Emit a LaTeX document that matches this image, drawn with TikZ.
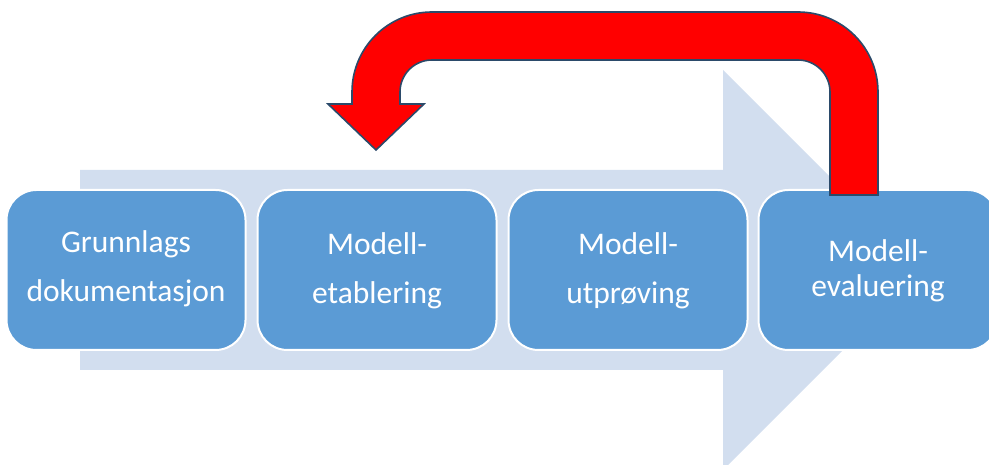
\documentclass[tikz,border=0pt]{standalone}
\usepackage{fontspec}
\setmainfont{Carlito}
\definecolor{boxblue}{HTML}{5B9BD5}
\definecolor{paleblue}{HTML}{D2DEEF}
\definecolor{arrowred}{HTML}{FF0000}
\definecolor{edgenavy}{HTML}{2B4A6A}
\begin{document}
\begin{tikzpicture}[x=1pt,y=1pt,
  stagebox/.style={rectangle, rounded corners=30pt, fill=boxblue, draw=white, line width=2pt,
    minimum width=239pt, minimum height=160pt, inner sep=0pt},
  lbl/.style={text=white, font=\fontsize{31.5}{38}\selectfont, inner sep=0pt, anchor=base}]
\useasboundingbox (0,0) rectangle (989,465);
\clip (0,0) rectangle (989,465);
% background process arrow
\fill[paleblue] (80,295) -- (723,295) -- (723,395) -- (923,195) -- (723,-5) -- (723,95) -- (80,95) -- cycle;
% stage boxes
\node[stagebox] (b1) at (126,195) {};
\node[stagebox] (b2) at (377,195) {};
\node[stagebox] (b3) at (628,195) {};
\node[stagebox] (b4) at (878,195) {};
% labels
\node[lbl] (t1a) at (126,212) {Grunnlags};
\node[lbl] (t1b) at (126,163) {dokumentasjon};
\node[lbl] (t2a) at (377,210) {Modell-};
\node[lbl] (t2b) at (377,161) {etablering};
\node[lbl] (t3a) at (628,210) {Modell-};
\node[lbl] (t3b) at (628,161) {utprøving};
\node[lbl] (t4a) at (878,203) {Modell-};
\node[lbl] (t4b) at (878,168) {evaluering};
% red feedback arrow
\filldraw[fill=arrowred, draw=edgenavy, line width=1.6pt, line join=miter]
  (878,270) -- (878,373) arc[start angle=0, end angle=90, radius=80]
  -- (432,453) arc[start angle=90, end angle=180, radius=80]
  -- (352,361) -- (328,361) -- (376,315) -- (424,361) -- (400,361)
  -- (400,373) arc[start angle=180, end angle=90, radius=32]
  -- (798,405) arc[start angle=90, end angle=0, radius=32]
  -- (830,270) -- cycle;
\end{tikzpicture}
\end{document}
